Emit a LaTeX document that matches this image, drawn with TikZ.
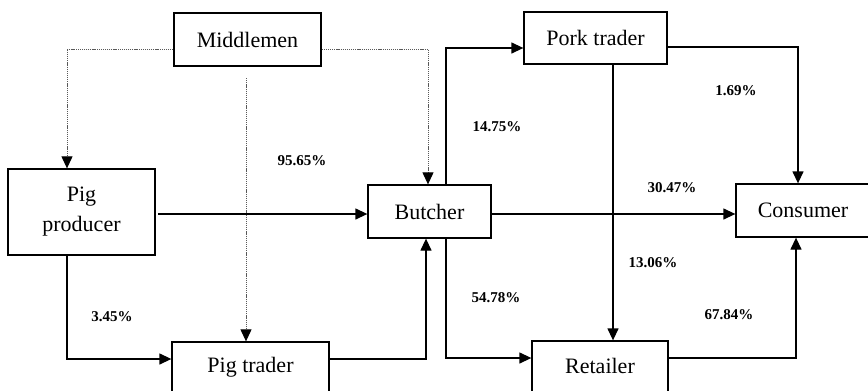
\documentclass[tikz,border=0pt]{standalone}
\usepackage{fontspec}
\setmainfont{Liberation Serif}
\usetikzlibrary{arrows.meta}
\begin{document}
\begin{tikzpicture}[x=1pt,y=-1pt,
  box/.style={draw, line width=1.3pt, rectangle, inner sep=0pt, align=center, font=\fontsize{22}{27}\selectfont},
  boxtext/.style={font=\fontsize{22}{27}\selectfont, inner sep=0pt},
  arr/.style={line width=1.3pt, -{Triangle[length=12pt,width=11pt]}},
  dotarr/.style={line width=1pt, dash pattern=on 1.2pt off 0.9pt, draw=black!65, -{Triangle[length=12pt,width=11pt,color=black]}},
  lbl/.style={font=\fontsize{15}{18}\selectfont\bfseries, inner sep=0pt}]
\useasboundingbox (0,0) rectangle (868,391);
\clip (0,0) rectangle (868,391);
% boxes
\node[box, minimum width=147pt, minimum height=53pt] (mid) at (247.5,39.5) {Middlemen};
\node[box, minimum width=147pt, minimum height=86pt] (prod) at (81.5,212) {Pig\\[3pt]producer};
\node[box, minimum width=123pt, minimum height=53pt] (butch) at (429.5,211.5) {Butcher};
\node[box, minimum width=143pt, minimum height=52pt] (pork) at (595.5,38) {Pork trader};
\node[box, minimum width=134pt, minimum height=53pt] (cons) at (803,210.5) {Consumer};
\node[box, minimum width=157pt, minimum height=53pt] (pigtr) at (250.5,368.5) {};
\node[boxtext] (pigtrt) at (250.5,367) {Pig trader};
\node[box, minimum width=136pt, minimum height=53pt] (retail) at (600,367.5) {};
\node[boxtext] (retailt) at (600,366) {Retailer};
% dotted connectors
\draw[dotarr] (mid.west |- 0,49) -| (67,0 |- prod.north);
\draw[dotarr] (mid.east |- 0,49) -| (428,0 |- butch.north);
\coordinate (midv) at (246,78);
\draw[dotarr] (midv) -- (246,0 |- pigtr.north);
% solid connectors
\draw[arr] (158,214) -- (butch.west |- 0,214);
\draw[arr] (67,0 |- prod.south) |- (pigtr.west |- 0,359);
\draw[arr] (pigtr.east |- 0,359) -| (426,0 |- butch.south);
\draw[arr] (446,0 |- butch.north) |- (pork.west |- 0,48);
\draw[arr] (pork.east |- 0,47) -| (798,0 |- cons.north);
\draw[arr] (613,0 |- pork.south) -- (613,0 |- retail.north);
\draw[arr] (butch.east |- 0,214) -- (cons.west |- 0,214);
\draw[arr] (446,0 |- butch.south) |- (retail.west |- 0,358);
\draw[arr] (retail.east |- 0,358) -| (796,0 |- cons.south);
% labels
\node[lbl] (l1) at (302,161) {95.65\%};
\node[lbl] (l2) at (497,127) {14.75\%};
\node[lbl] (l3) at (736,91) {1.69\%};
\node[lbl] (l4) at (672,188) {30.47\%};
\node[lbl] (l5) at (112,317) {3.45\%};
\node[lbl] (l6) at (653,263) {13.06\%};
\node[lbl] (l7) at (496,298) {54.78\%};
\node[lbl] (l8) at (729,315) {67.84\%};
\end{tikzpicture}
\end{document}
